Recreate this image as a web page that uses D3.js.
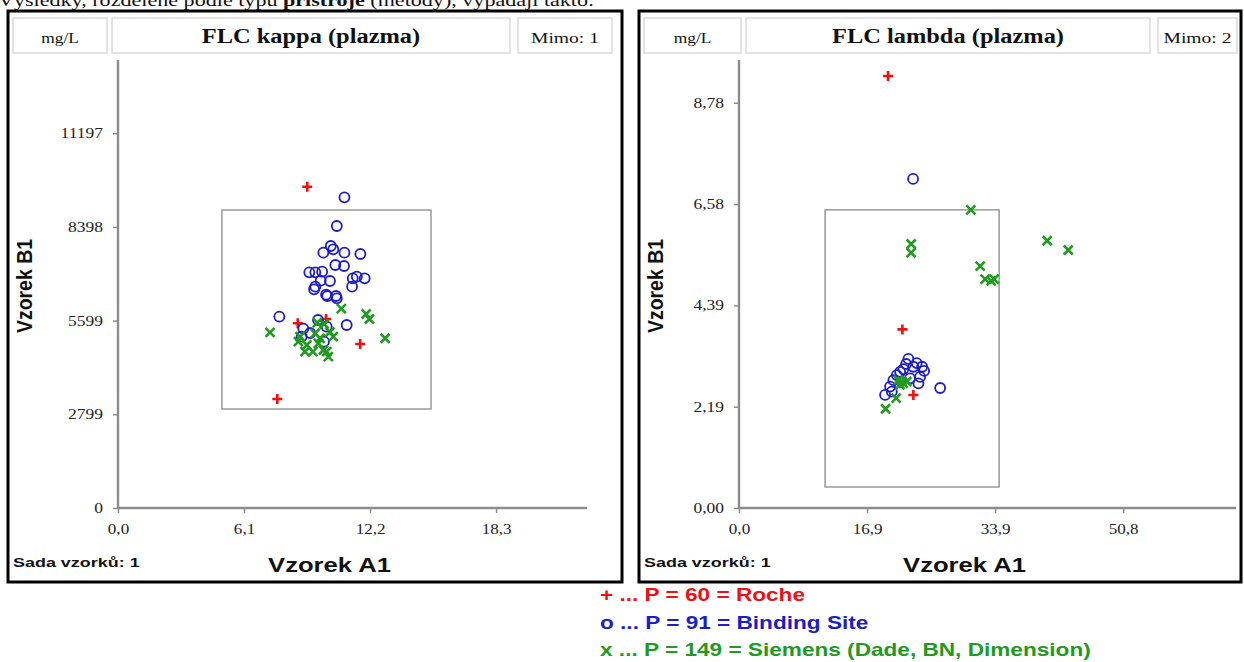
<!DOCTYPE html>
<html><head><meta charset="utf-8">
<script src="https://cdn.jsdelivr.net/npm/d3@7"></script>
<style>body{margin:0;background:#fff}svg{display:block}</style>
</head><body>
<svg id="c" width="1244" height="662"></svg>
<script>
// ---------- DATA ----------
const panelTitles = ["FLC kappa (plazma)", "FLC lambda (plazma)"];
const unitLabel = "mg/L";
const outsideLabels = ["Mimo: 1", "Mimo: 2"];
const setLabel = "Sada vzorků: 1";
const xAxisTitle = "Vzorek A1";
const yAxisTitle = "Vzorek B1";

const kappaXTicks = [0, 6.1, 12.2, 18.3];
const kappaXTickLabels = ["0,0", "6,1", "12,2", "18,3"];
const kappaYTicks = [0, 2799, 5599, 8398, 11197];
const kappaYTickLabels = ["0", "2799", "5599", "8398", "11197"];
const kappaDomainX = [0, 22.7];
const kappaDomainY = [0, 13384];
const kappaBox = [5.03, 2957, 15.15, 8902]; // xmin, ymin, xmax, ymax

const lambdaXTicks = [0, 16.93, 33.86, 50.79];
const lambdaXTickLabels = ["0,0", "16,9", "33,9", "50,8"];
const lambdaYTicks = [0, 2.195, 4.39, 6.585, 8.78];
const lambdaYTickLabels = ["0,00", "2,19", "4,39", "6,58", "8,78"];
const lambdaDomainX = [0, 65.7];
const lambdaDomainY = [0, 9.707];
const lambdaBox = [11.38, 0.455, 34.39, 6.46];

const kappaRoche = [[9.16,9599],[8.70,5518],[10.07,5646],[11.72,4900],[7.71,3256]];
const kappaBinding = [[10.96,9282],[10.59,8425],[10.30,7827],[10.42,7729],[9.94,7627],[10.96,7627],
  [11.73,7588],[10.52,7260],[10.94,7230],[9.26,7041],[9.55,7041],[9.88,7059],[10.26,6782],[9.81,6791],
  [11.36,6862],[11.56,6911],[11.94,6862],[11.33,6612],[9.55,6612],[9.49,6534],[10.07,6373],[10.13,6334],
  [10.55,6334],[10.59,6265],[7.81,5716],[11.07,5467],[8.97,5357],[8.89,5118],[10.10,5417],[9.97,4969],
  [9.30,5228],[9.68,5617]];
const kappaSiemens = [[10.81,5954],[12.01,5796],[12.17,5646],[7.36,5249],[12.93,5070],[10.42,5118],
  [8.73,4969],[9.65,5536],[9.97,5497],[9.54,5219],[9.14,4870],[9.43,4670],[9.05,4670],[9.70,4920],
  [9.94,4720],[10.18,4520],[10.10,4670],[8.81,5118],[9.78,5070],[10.26,5258]];

const lambdaRoche = [[19.71,9.36],[21.60,3.87],[23.05,2.45]];
const lambdaBinding = [[23.01,7.13],[22.39,3.23],[23.50,3.14],[24.21,3.06],[24.47,2.97],[23.05,3.06],
  [21.73,3.01],[20.86,2.88],[20.41,2.77],[19.97,2.63],[19.31,2.45],[20.20,2.52],[26.59,2.60],[23.72,2.70],
  [23.94,2.84],[22.62,2.81],[21.30,2.95],[22.09,3.12]];
const lambdaSiemens = [[30.65,6.46],[22.75,5.72],[22.75,5.53],[40.74,5.79],[43.52,5.59],[31.88,5.24],
  [32.54,4.96],[33.33,4.92],[33.73,4.96],[21.07,2.77],[21.73,2.70],[21.30,2.67],[22.18,2.74],[21.52,2.74],
  [20.77,2.38],[19.38,2.15]];

const legendLines = ["+ ... P = 60 = Roche", "o ... P = 91 = Binding Site", "x ... P = 149 = Siemens (Dade, BN, Dimension)"];

// ---------- DRAW ----------
const svg = d3.select("#c");
const RED = "#f01010", BLUE = "#1c1cc8", GREEN = "#229a22";
const SERIF = "'Liberation Serif', 'Times New Roman', serif";
const SANS = "'Liberation Sans', Arial, sans-serif";

// text with horizontal stretch (the reference is stretched horizontally)
function txt(g, x, y, s, o) {
  return g.append("text")
    .attr("transform", `translate(${x},${y}) scale(${o.sx || 1},1)${o.rot ? " rotate(" + o.rot + ")" : ""}`)
    .attr("text-anchor", o.anchor || "start")
    .style("font-family", o.font || SANS).style("font-size", o.size + "px")
    .style("font-weight", o.weight || "normal").attr("fill", o.fill || "#111").text(s);
}

// top cropped text line
const topLine = svg.append("text").attr("transform", "translate(-2,6) scale(1.3,1)")
  .style("font-family", SERIF).style("font-size", "17px").attr("fill", "#111");
topLine.append("tspan").text("Výsledky, rozdělené podle typu ");
topLine.append("tspan").style("font-weight", "bold").text("přístroje");
topLine.append("tspan").text(" (metody), vypadají takto:");

function panel(o) {
  const g = svg.append("g");
  g.append("rect").attr("x", o.left).attr("y", 11).attr("width", o.right - o.left).attr("height", 571)
    .attr("fill", "#fff").attr("stroke", "#000").attr("stroke-width", 3);
  const boxes = [[o.left + 5, o.hb1, o.unit, 14.5, "normal", 1.2], [o.hb1 + 5, o.hb2, o.title, 22, "bold", 1.11],
                 [o.hb2 + 8, o.mimoRight, o.mimo, 14.5, "normal", 1.35]];
  boxes.forEach(b => {
    g.append("rect").attr("x", b[0]).attr("y", 18).attr("width", b[1] - b[0]).attr("height", 35)
      .attr("fill", "#fff").attr("stroke", "#dadada").attr("stroke-width", 1.5);
    txt(g, (b[0] + b[1]) / 2, 43, b[2], {anchor: "middle", font: SERIF, size: b[3], weight: b[4], sx: b[5]});
  });

  const x = d3.scaleLinear().domain(o.domX).range([o.x0, o.x1]);
  const y = d3.scaleLinear().domain(o.domY).range([508, 60]);

  g.append("rect").attr("x", x(o.box[0])).attr("y", y(o.box[3]))
    .attr("width", x(o.box[2]) - x(o.box[0])).attr("height", y(o.box[1]) - y(o.box[3]))
    .attr("fill", "none").attr("stroke", "#8a8a8a").attr("stroke-width", 1.3);

  const ya = d3.axisLeft(y).tickValues(o.yt).tickFormat((d, i) => o.ytl[i]).tickSize(5).tickPadding(10);
  const xa = d3.axisBottom(x).tickValues(o.xt).tickFormat((d, i) => o.xtl[i]).tickSize(5).tickPadding(6);
  const gy = g.append("g").attr("transform", `translate(${o.x0},0)`).call(ya);
  const gx = g.append("g").attr("transform", `translate(0,508)`).call(xa);
  [gx, gy].forEach(a => {
    a.select(".domain").attr("stroke", "#8c8c8c").attr("stroke-width", 2.4);
    a.selectAll(".tick line").attr("stroke", "#8c8c8c").attr("stroke-width", 1.5);
    a.selectAll("text").style("font-family", SERIF).style("font-size", "14px").attr("fill", "#222");
  });
  gy.select(".domain").attr("d", `M0,508V60`);
  gx.select(".domain").attr("d", `M${o.x0},0H${o.x1}`);
  // horizontal stretch of tick labels about their anchor
  gy.selectAll(".tick text").attr("transform", "scale(1.25,1)").attr("x", -15 / 1.25);
  gx.selectAll(".tick text").attr("transform", "scale(1.22,1)").attr("dy", "1.1em");

  txt(g, (o.x0 + o.x1) / 2 - 23, 572, xAxisTitle, {anchor: "middle", size: 20.5, weight: "bold", sx: 1.25});
  txt(g, o.left + 24, 286, yAxisTitle, {anchor: "middle", size: 19.5, weight: "bold", sx: 1.15, rot: -90});
  txt(g, o.left + 5, 567, setLabel, {size: 13.5, weight: "bold", sx: 1.33});

  const plus = "M-5,0H5M0,-5V5", cross = "M-4.5,-4.5L4.5,4.5M4.5,-4.5L-4.5,4.5";
  g.append("g").selectAll("path").data(o.red).join("path").attr("d", plus)
    .attr("transform", d => `translate(${x(d[0])},${y(d[1])})`).attr("stroke", RED).attr("stroke-width", 2.6).attr("fill", "none");
  g.append("g").selectAll("circle").data(o.blue).join("circle").attr("r", 5)
    .attr("cx", d => x(d[0])).attr("cy", d => y(d[1])).attr("stroke", BLUE).attr("stroke-width", 1.8).attr("fill", "none");
  g.append("g").selectAll("path").data(o.green).join("path").attr("d", cross)
    .attr("transform", d => `translate(${x(d[0])},${y(d[1])})`).attr("stroke", GREEN).attr("stroke-width", 2.6).attr("fill", "none");
}

panel({left: 8, right: 622, hb1: 107, hb2: 510, mimoRight: 612, unit: unitLabel, title: panelTitles[0], mimo: outsideLabels[0],
  x0: 118, x1: 587, domX: kappaDomainX, domY: kappaDomainY, box: kappaBox,
  xt: kappaXTicks, xtl: kappaXTickLabels, yt: kappaYTicks, ytl: kappaYTickLabels,
  red: kappaRoche, blue: kappaBinding, green: kappaSiemens});
panel({left: 639, right: 1241, hb1: 741, hb2: 1150, mimoRight: 1237, unit: unitLabel, title: panelTitles[1], mimo: outsideLabels[1],
  x0: 739, x1: 1236, domX: lambdaDomainX, domY: lambdaDomainY, box: lambdaBox,
  xt: lambdaXTicks, xtl: lambdaXTickLabels, yt: lambdaYTicks, ytl: lambdaYTickLabels,
  red: lambdaRoche, blue: lambdaBinding, green: lambdaSiemens});

const legColors = [RED, BLUE, GREEN];
legendLines.forEach((s, i) => txt(svg, 600, 601 + i * 27.5, s, {size: 19, weight: "bold", sx: 1.19, fill: legColors[i]}));
</script>
</body></html>
